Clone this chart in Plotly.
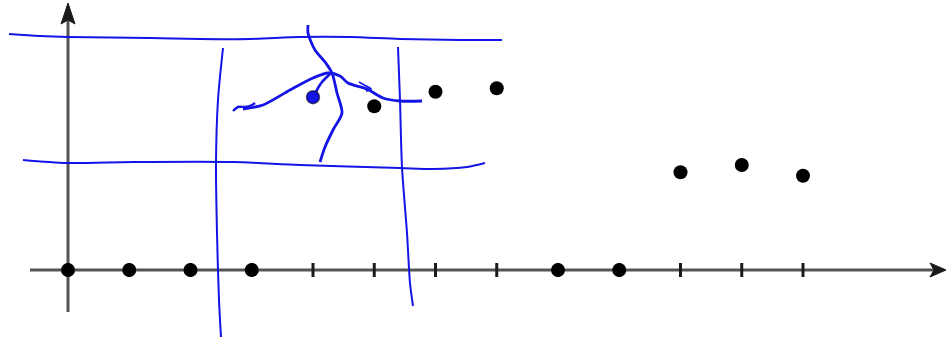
import plotly.graph_objects as go

# ---- data ----
x_idx = list(range(13))
values = [0, 0, 0, 0, 2.88, 2.73, 2.97, 3.03, 0, 0, 1.63, 1.75, 1.57]
highlight_idx = 4
tick_idx = list(range(13))

# ---- pixel <-> data helpers (figure fills the whole 947x340 canvas) ----
W, H = 947, 340
X0_PX, DX_PX = 68, 61.25   # pixel of x=0, pixels per x unit
Y0_PX, DY_PX = 270, 60     # pixel of y=0, pixels per y unit
def dx(px): return (px - X0_PX) / DX_PX
def dy(py): return (Y0_PX - py) / DY_PX

# hand-drawn blue strokes (pixel positions of the freehand pen strokes)
strokes = [
    ([(9,34),(40,36),(68,37),(150,38),(200,39),(250,39),(300,37),(350,37),(400,39),(460,40),(502,40)], 2.0),
    ([(23,160),(67,163),(133,162),(233,162),(300,165),(400,168),(433,169),(467,167),(485,163)], 2.0),
    ([(223,48),(218,100),(216,163),(217,233),(219,300),(221,337)], 2.0),
    ([(398,47),(400,100),(402,167),(407,233),(410,283),(413,306)], 2.0),
    ([(308,25),(308,33),(315,50),(325,62),(332,73),(337,93),(342,113),(333,130),(325,147),(320,162)], 2.8),
    ([(243,109),(263,105),(290,90),(313,78),(328,73),(340,76),(348,83),(367,89),(383,98),(400,101),(422,101)], 2.8),
    ([(233,111),(238,107),(245,107),(252,105),(255,103)], 2.4),
    ([(359,82),(366,86),(371,89),(366,91)], 2.0),
    ([(330,74),(322,82),(318,88),(315,94)], 2.6),
]
BLUE = "#1414e6"
AXIS = "#555555"

fig = go.Figure()

# tick marks on the x axis
fig.add_trace(go.Scatter(
    x=tick_idx, y=[0]*len(tick_idx), mode="markers",
    marker=dict(symbol="line-ns", size=10, line=dict(color="#1a1a1a", width=3)),
    hoverinfo="skip", showlegend=False))

# black data points
other = [i for i in x_idx if i != highlight_idx]
fig.add_trace(go.Scatter(
    x=[x_idx[i] for i in other], y=[values[i] for i in other], mode="markers",
    marker=dict(size=14, color="black"), showlegend=False))

# blue strokes
for pts, w in strokes:
    fig.add_trace(go.Scatter(
        x=[dx(p[0]) for p in pts], y=[dy(p[1]) for p in pts], mode="lines",
        line=dict(color=BLUE, width=w, shape="spline", smoothing=0.8),
        hoverinfo="skip", showlegend=False))

# highlighted (blue) point
fig.add_trace(go.Scatter(
    x=[x_idx[highlight_idx]], y=[values[highlight_idx]], mode="markers",
    marker=dict(size=13, color=BLUE, line=dict(color="rgba(0,0,0,0.55)", width=1.5)),
    showlegend=False))

def path(points):
    return "M " + " L ".join(f"{dx(a)},{dy(b)}" for a, b in points) + " Z"

shapes = [
    # x axis
    dict(type="line", xref="x", yref="y", x0=dx(30), x1=dx(934), y0=0, y1=0,
         line=dict(color=AXIS, width=3), layer="below"),
    # y axis
    dict(type="line", xref="x", yref="y", x0=0, x1=0, y0=dy(312), y1=dy(20),
         line=dict(color=AXIS, width=3), layer="below"),
    # arrowheads
    dict(type="path", xref="x", yref="y", path=path([(946,270),(930,263),(934,270),(930,277)]),
         fillcolor="#1a1a1a", line=dict(color="#1a1a1a", width=1)),
    dict(type="path", xref="x", yref="y", path=path([(68,3),(61,24),(68,20),(75,24)]),
         fillcolor="#1a1a1a", line=dict(color="#1a1a1a", width=1)),
]

fig.update_layout(
    width=W, height=H, autosize=False,
    margin=dict(l=0, r=0, t=0, b=0, pad=0),
    paper_bgcolor="white", plot_bgcolor="white",
    xaxis=dict(range=[dx(0), dx(W)], visible=False, fixedrange=True),
    yaxis=dict(range=[dy(H), dy(0)], visible=False, fixedrange=True),
    shapes=shapes,
)

fig.write_html(
    "out.html",
    config={"displayModeBar": False},
    post_script="document.body.style.margin='0';document.body.style.overflow='hidden';",
)
